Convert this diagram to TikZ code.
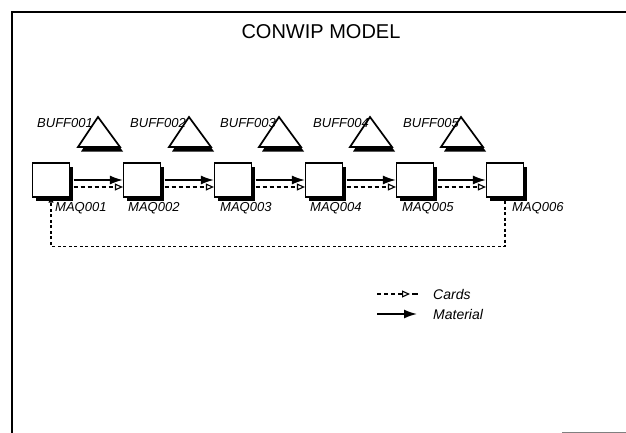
\documentclass[tikz,border=0pt]{standalone}
\usepackage{fontspec}
\setmainfont{Liberation Sans}
\usetikzlibrary{arrows.meta,shadows}
\begin{document}
\begin{tikzpicture}[x=1pt,y=-1pt,
  maq/.style={draw=black,line width=1.2pt,fill=white,minimum width=37pt,minimum height=34pt,inner sep=0pt,
    drop shadow={shadow xshift=3.5pt,shadow yshift=-3.5pt,fill=black,opacity=1}},
  lbl/.style={font=\itshape\fontsize{13}{14}\selectfont,inner sep=0pt,anchor=west},
  leg/.style={font=\itshape\fontsize{14}{16}\selectfont,inner sep=0pt,anchor=west},
  material/.style={line width=1.6pt,-{Latex[length=13pt,width=9pt]}},
  card/.style={line width=1.1pt,dash pattern=on 4pt off 3pt,-{Triangle[open,length=8pt,width=7pt]}},
  cardloop/.style={line width=1.2pt,dash pattern=on 3pt off 2.5pt,-{Triangle[open,length=5pt,width=5pt]}},
  buff/.style={draw=black,line width=1.7pt,fill=white,line join=miter},
]
\useasboundingbox (0,0) rectangle (626,433);
% frame
\draw[line width=2pt] (12,433) -- (12,12) -- (626,12);
\draw[gray,line width=1pt] (562,432) -- (626,432);
% title
\node[font=\fontsize{20}{24}\selectfont] (title) at (321,32) {CONWIP MODEL};
% buffers
\foreach \i/\cx/\lx in {1/99/37,2/190/130,3/280/220,4/371/313,5/462/403} {
  \fill[black] (\cx-18,151.5) -- (\cx+24,151.5) -- (\cx+2,121.5) -- cycle;
  \draw[buff] (\cx-21,147) -- (\cx+21,147) -- (\cx-1,117) -- cycle;
  \coordinate (t\i) at (\cx,147);
  \node[lbl] (b\i) at (\lx,123) {BUFF00\i};
}
% machines
\foreach \i/\cx/\lx in {1/51/55,2/142/128,3/233/220,4/324/310,5/415/402,6/505/512} {
  \node[maq] (m\i) at (\cx,180) {};
  \node[lbl] (ml\i) at (\lx,208) {MAQ00\i};
}
% connectors
\foreach \i [evaluate=\i as \j using int(\i+1)] in {1,...,5} {
  \draw[material] ([xshift=3.5pt]m\i.east) -- (m\j.west);
  \draw[card] ([xshift=3.5pt,yshift=-7pt]m\i.east) -- ([yshift=-7pt]m\j.west);
}
\draw[cardloop] ([yshift=-3.5pt]m6.south) -- ++(0,45) -| (m1.south);
% legend
\coordinate (c1) at (377,294);
\coordinate (c2) at (410,294);
\coordinate (c3) at (412,294);
\coordinate (c4) at (418,294);
\draw[card] (c1) -- (c2);
\draw[line width=1.1pt] (c3) -- (c4);
\node[leg] (lc) at (433,294) {Cards};
\coordinate (d1) at (377,314);
\coordinate (d2) at (417,314);
\draw[material] (d1) -- (d2);
\node[leg] (lm) at (433,314) {Material};
\end{tikzpicture}
\end{document}
